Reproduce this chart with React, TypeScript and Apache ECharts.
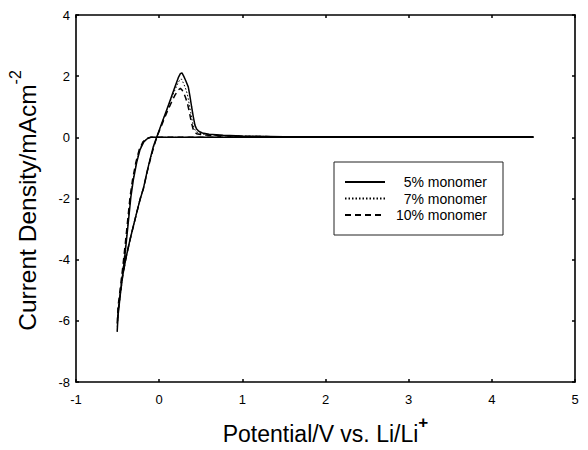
import React, { useEffect, useRef } from "react";
import * as echarts from "echarts";

const seriesNames = ["5% monomer", "7% monomer", "10% monomer"];

const fivePct: [number, number][] = [
  [4.5, 0], [2.0, 0], [0.5, 0], [0.0, 0], [-0.1, 0], [-0.14, -0.04], [-0.185, -0.15], [-0.23, -0.4],
  [-0.27, -0.82], [-0.31, -1.38], [-0.34, -1.95], [-0.37, -2.75], [-0.4, -3.55], [-0.43, -4.3],
  [-0.46, -4.98], [-0.49, -5.62], [-0.505, -6.36], [-0.495, -5.85], [-0.47, -5.2], [-0.44, -4.55],
  [-0.4, -3.95], [-0.35, -3.34], [-0.29, -2.68], [-0.23, -2.03], [-0.19, -1.68], [-0.15, -1.18],
  [-0.11, -0.72], [-0.07, -0.3], [-0.03, 0.0], [0.03, 0.45], [0.09, 0.89], [0.14, 1.27],
  [0.19, 1.65], [0.23, 1.95], [0.255, 2.08], [0.274, 2.11], [0.295, 2.0], [0.32, 1.85],
  [0.35, 1.65], [0.37, 1.35], [0.39, 1.0], [0.41, 0.68], [0.43, 0.4], [0.45, 0.27], [0.48, 0.19],
  [0.52, 0.14], [0.6, 0.1], [0.77, 0.07], [1.0, 0.04], [1.5, 0.02], [4.5, 0.02],
];

const sevenPct: [number, number][] = [
  [4.5, 0], [2.0, 0], [0.5, 0], [0.0, 0], [-0.105, 0], [-0.145, -0.04], [-0.19, -0.15], [-0.235, -0.4],
  [-0.275, -0.82], [-0.315, -1.38], [-0.345, -1.95], [-0.375, -2.75], [-0.405, -3.55], [-0.435, -4.3],
  [-0.465, -4.98], [-0.492, -5.6], [-0.503, -6.2], [-0.49, -5.7], [-0.465, -5.1], [-0.438, -4.5],
  [-0.395, -3.9], [-0.345, -3.3], [-0.285, -2.62], [-0.225, -1.98], [-0.185, -1.63], [-0.145, -1.14],
  [-0.105, -0.7], [-0.065, -0.3], [-0.027, 0.02], [0.03, 0.45], [0.09, 0.87], [0.14, 1.22],
  [0.19, 1.55], [0.23, 1.8], [0.255, 1.9], [0.27, 1.9], [0.29, 1.78], [0.315, 1.62], [0.34, 1.4],
  [0.36, 1.1], [0.38, 0.8], [0.4, 0.5], [0.42, 0.3], [0.44, 0.2], [0.47, 0.15], [0.51, 0.11],
  [0.6, 0.08], [0.77, 0.06], [1.0, 0.04], [1.5, 0.02], [4.5, 0.02],
];

const tenPct: [number, number][] = [
  [4.5, 0], [2.0, 0], [0.5, 0], [0.0, 0], [-0.11, 0], [-0.15, -0.04], [-0.195, -0.15], [-0.24, -0.4],
  [-0.28, -0.82], [-0.32, -1.38], [-0.35, -1.95], [-0.38, -2.75], [-0.41, -3.55], [-0.44, -4.3],
  [-0.47, -4.98], [-0.495, -5.55], [-0.505, -6.1], [-0.49, -5.6], [-0.462, -5.0], [-0.435, -4.45],
  [-0.392, -3.85], [-0.342, -3.25], [-0.282, -2.6], [-0.222, -1.95], [-0.182, -1.6], [-0.142, -1.1],
  [-0.102, -0.68], [-0.062, -0.28], [-0.025, 0.03], [0.03, 0.4], [0.09, 0.8], [0.14, 1.1],
  [0.19, 1.38], [0.23, 1.55], [0.255, 1.6], [0.275, 1.55], [0.3, 1.42], [0.32, 1.28], [0.345, 1.05],
  [0.365, 0.8], [0.385, 0.52], [0.405, 0.3], [0.425, 0.17], [0.45, 0.12], [0.5, 0.09], [0.6, 0.07],
  [0.77, 0.05], [1.0, 0.03], [1.5, 0.02], [4.5, 0.02],
];

const xTicks = { min: -1, max: 5, interval: 1 };
const yTicks = { min: -8, max: 4, interval: 2 };

const FONT = "'Liberation Sans', Arial, sans-serif";

export default function App() {
  const ref = useRef<HTMLDivElement>(null);
  useEffect(() => {
    if (!ref.current) return;
    const chart = echarts.init(ref.current, undefined, { renderer: "svg" });
    const axisLine = { show: true, onZero: false, lineStyle: { color: "#000", width: 1.6 } };
    const axisTick = { show: true, inside: true, length: 3, lineStyle: { color: "#000", width: 1.5 } };
    const labelStyle = { color: "#000", fontSize: 13, fontFamily: FONT };
    const option: any = {
      animation: false,
      backgroundColor: "#fff",
      textStyle: { fontFamily: FONT },
      grid: { left: 76, right: 13, top: 15, bottom: 68, containLabel: false, outerBoundsMode: "none" },
      legend: {
        orient: "vertical",
        left: 334,
        top: 162,
        padding: [13, 16, 13, 10],
        itemWidth: 40,
        itemHeight: 14,
        itemGap: 2.5,
        borderColor: "#222",
        borderWidth: 1,
        itemStyle: { opacity: 0, borderWidth: 0 },
        data: seriesNames,
        formatter: "{a|{name}}",
        textStyle: {
          color: "#000",
          fontSize: 14,
          fontFamily: FONT,
          rich: { a: { width: 97, align: "right", fontSize: 14, fontFamily: FONT, color: "#000" } },
        },
      },
      xAxis: [
        {
          type: "value",
          ...xTicks,
          position: "bottom",
          axisLine,
          axisTick,
          splitLine: { show: false },
          axisLabel: { ...labelStyle, margin: 11 },
          name: "Potential/V vs. Li/Li{sup|+}",
          nameLocation: "middle",
          nameGap: 32,
          nameTextStyle: {
            color: "#000",
            fontSize: 23,
            lineHeight: 40,
            fontFamily: FONT,
            rich: {
              sup: { fontSize: 17, fontWeight: "bold", lineHeight: 17, fontFamily: FONT, color: "#000", verticalAlign: "top" },
            },
          },
        },
        {
          type: "value",
          ...xTicks,
          position: "top",
          axisLine,
          axisTick,
          splitLine: { show: false },
          axisLabel: { show: false },
        },
      ],
      yAxis: [
        {
          type: "value",
          ...yTicks,
          position: "left",
          axisLine,
          axisTick,
          splitLine: { show: false },
          axisLabel: { ...labelStyle, margin: 6 },
          name: "Current Density/mAcm{sup|-2}",
          nameLocation: "middle",
          nameGap: 19,
          nameTextStyle: {
            color: "#000",
            fontSize: 24.5,
            lineHeight: 40,
            fontFamily: FONT,
            padding: [0, 4, 0, 0],
            rich: {
              sup: { fontSize: 16, lineHeight: 16, fontFamily: FONT, color: "#000", verticalAlign: "top" },
            },
          },
        },
        {
          type: "value",
          ...yTicks,
          position: "right",
          axisLine,
          axisTick,
          splitLine: { show: false },
          axisLabel: { show: false },
        },
      ],
      series: [
        {
          name: seriesNames[0],
          type: "line",
          data: fivePct,
          showSymbol: false,
          symbol: "none",
          lineStyle: { color: "#000", width: 1.5, type: "solid" },
          itemStyle: { color: "#000" },
        },
        {
          name: seriesNames[1],
          type: "line",
          data: sevenPct,
          showSymbol: false,
          symbol: "none",
          lineStyle: { color: "#000", width: 1, type: [1.5, 2] },
          itemStyle: { color: "#000" },
        },
        {
          name: seriesNames[2],
          type: "line",
          data: tenPct,
          showSymbol: false,
          symbol: "none",
          lineStyle: { color: "#000", width: 1.5, type: [6, 4] },
          itemStyle: { color: "#000" },
        },
      ],
    };
    chart.setOption(option);
    return () => chart.dispose();
  }, []);
  return <div ref={ref} style={{ width: 588, height: 450, position: "absolute", left: 0, top: 0 }} />;
}
